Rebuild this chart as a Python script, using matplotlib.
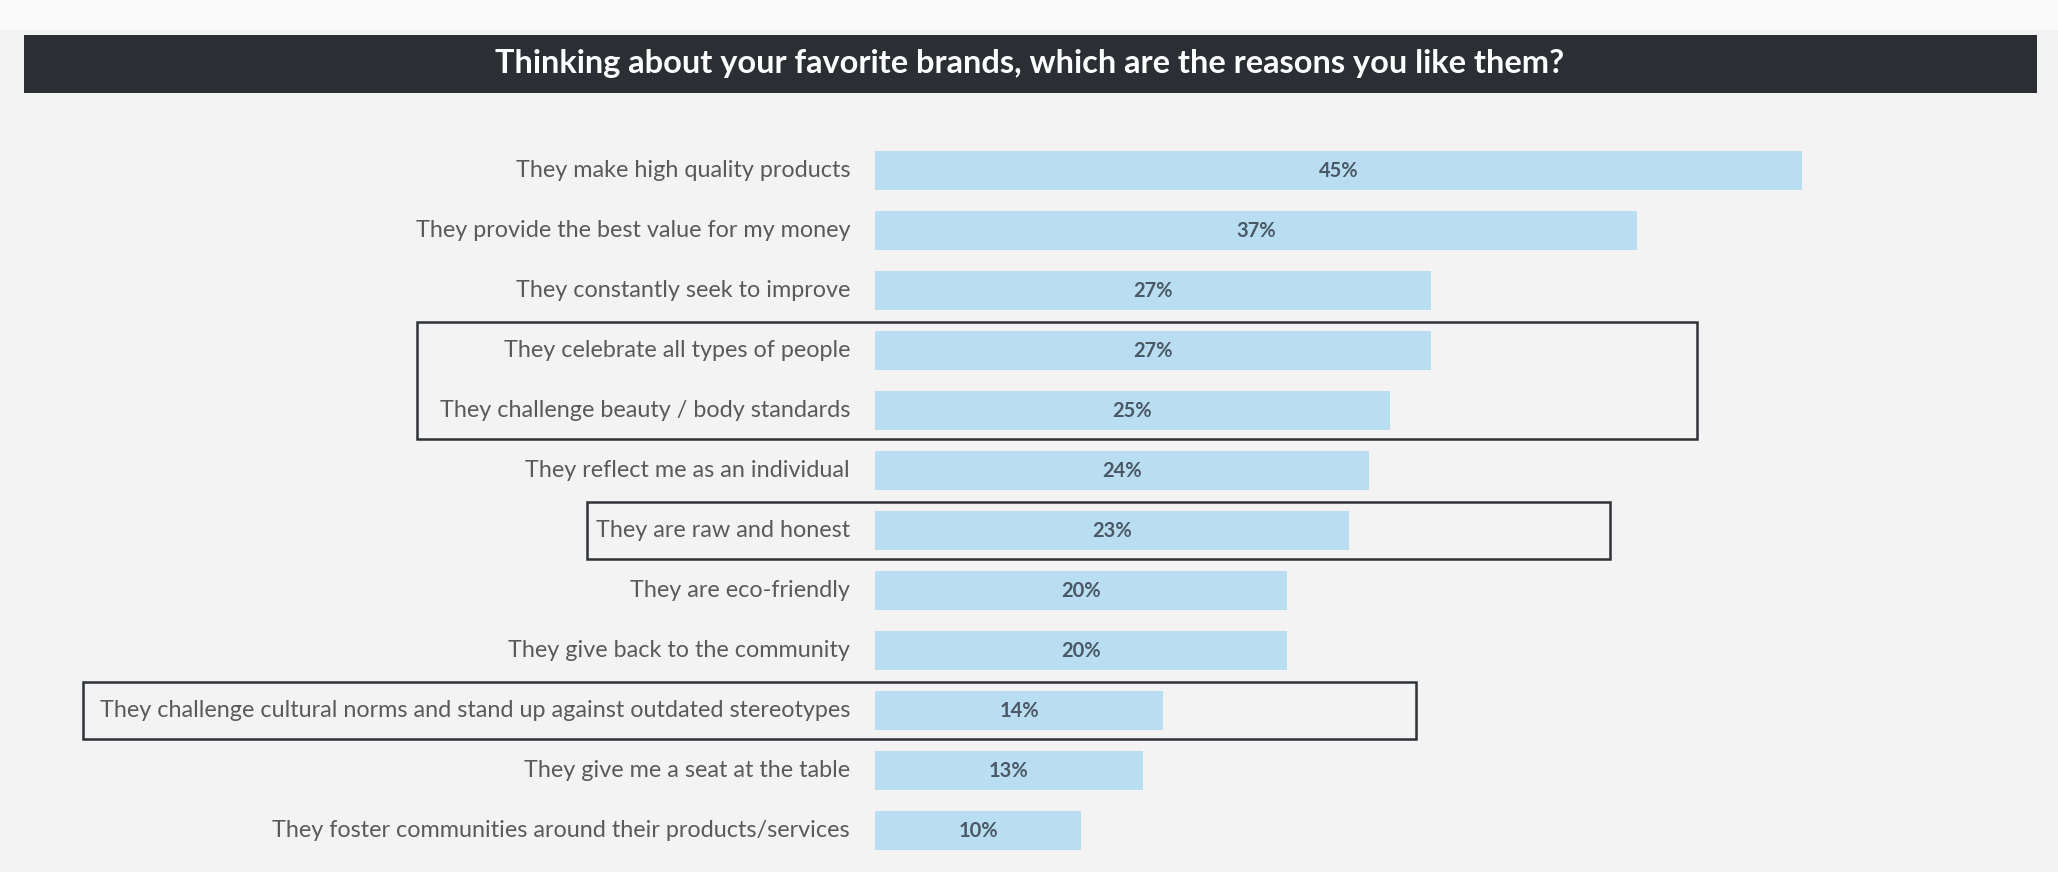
import matplotlib
matplotlib.use("Agg")
import matplotlib.pyplot as plt
from matplotlib.patches import Rectangle
from matplotlib.transforms import blended_transform_factory

# Survey answers, top to bottom
reasons = [
    "They make high quality products",
    "They provide the best value for my money",
    "They constantly seek to improve",
    "They celebrate all types of people",
    "They challenge beauty / body standards",
    "They reflect me as an individual",
    "They are raw and honest",
    "They are eco-friendly",
    "They give back to the community",
    "They challenge cultural norms and stand up against outdated stereotypes",
    "They give me a seat at the table",
    "They foster communities around their products/services",
]
shares = [45, 37, 27, 27, 25, 24, 23, 20, 20, 14, 13, 10]

# Groups of rows that get an outline: (first row, last row, left, right) in figure fraction
highlight_groups = [(3, 4, 0.2026, 0.8246), (6, 6, 0.2852, 0.7823), (9, 9, 0.0403, 0.6880)]

title = "Thinking about your favorite brands, which are the reasons you like them?"

bg = "#f3f3f3"
bar_color = "#b9def2"
label_color = "#5a5a5a"
value_color = "#4b5866"

W, H = 2058, 872
fig = plt.figure(figsize=(W / 100, H / 100), dpi=100, facecolor=bg)

# white strip across the top and the dark title band
fig.patches.append(Rectangle((0, 1 - 30 / H), 1, 30 / H, transform=fig.transFigure,
                             facecolor="#fafafa", edgecolor="none", zorder=0))
fig.patches.append(Rectangle((24 / W, 1 - 93 / H), (2037 - 24) / W, 58 / H,
                             transform=fig.transFigure, facecolor="#2b2f34",
                             edgecolor="none", zorder=1))
fig.text(1030 / W, 1 - 64 / H, title, color="white", fontsize=23.4, fontweight="bold",
         family="Lato", ha="center", va="center")

ax = fig.add_axes([875 / W, (872 - 860.6) / H, (2037 - 875) / W, 720 / H])
ax.set_facecolor("none")
ax.set_xlim(0, (2037 - 875) / 20.6)
ax.set_ylim(len(reasons) - 0.5, -0.5)
ax.axis("off")

rows = list(range(len(reasons)))
ax.barh(rows, shares, height=0.65, color=bar_color, zorder=2)
for i, (reason, share) in enumerate(zip(reasons, shares)):
    ax.text(share / 2, i, f"{share}%", ha="center", va="center", color=value_color,
            fontsize=14.5, fontweight="bold", family="Lato", zorder=3)
    ax.text(-25 / 20.6, i, reason, ha="right", va="center", color=label_color,
            fontsize=16.8, family="Lato", zorder=3)

box_tr = blended_transform_factory(fig.transFigure, ax.transData)
for first, last, x0, x1 in highlight_groups:
    y0 = first - 0.47
    y1 = last + 0.47
    fig.patches.append(Rectangle((x0, y0), x1 - x0, y1 - y0, transform=box_tr,
                                 facecolor="none", edgecolor="#2f3236", linewidth=1.8,
                                 zorder=4))

fig.savefig("out.png", dpi=100, facecolor=bg)
